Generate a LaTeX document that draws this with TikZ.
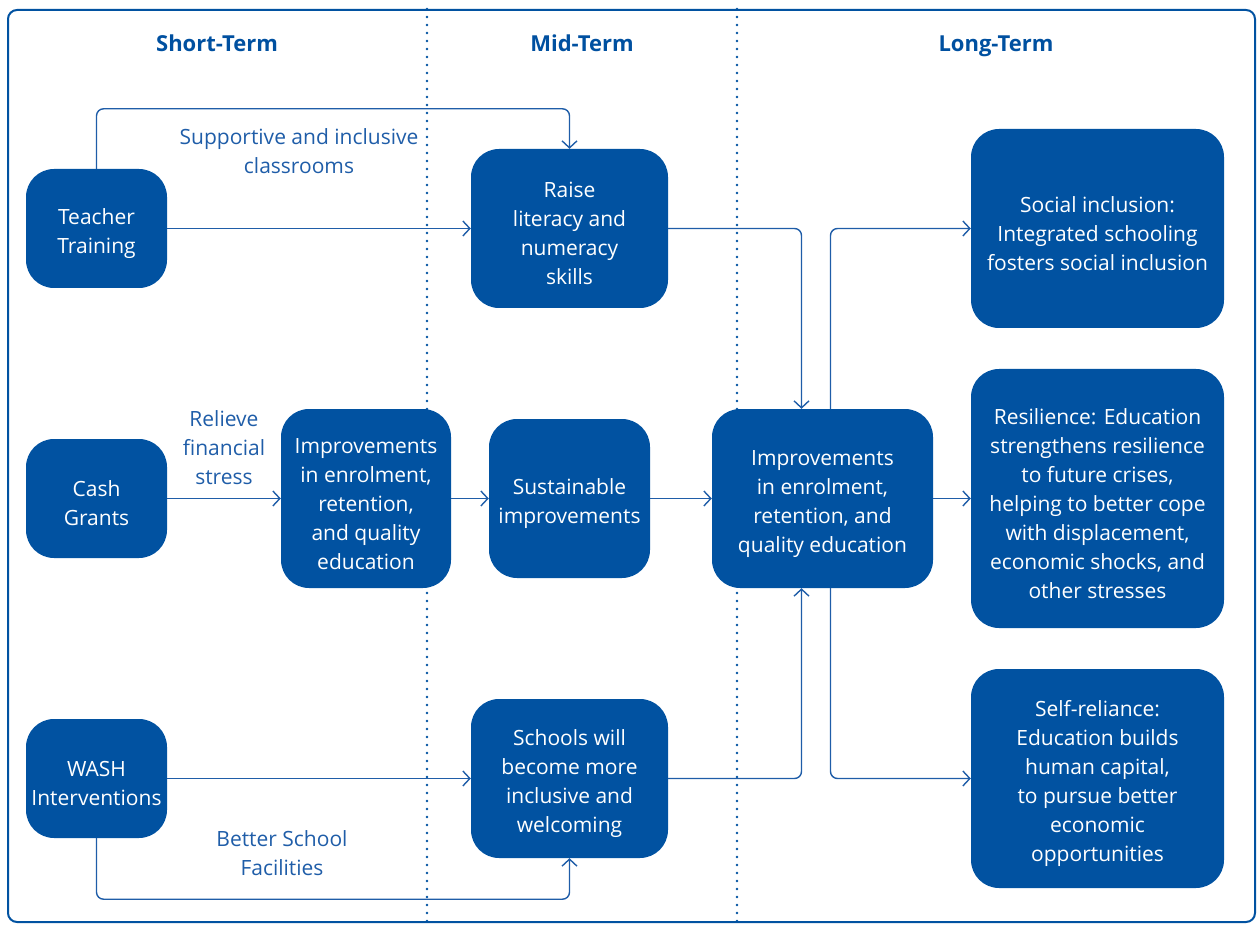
\documentclass[tikz,border=0pt]{standalone}
\usepackage{fontspec}
\setmainfont{Open Sans}
\usetikzlibrary{arrows.meta}
\definecolor{boxblue}{HTML}{0152A1}
\definecolor{lineblue}{HTML}{1F5DA8}
\definecolor{headblue}{HTML}{0050A0}
% taller first line: sets the box text a little below the centre
\newcommand\toprow{\rule{0pt}{26pt}}
\begin{document}
\begin{tikzpicture}[x=1pt,y=-1pt,
  stage/.style={fill=boxblue,draw=none,rounded corners=28pt,text=white,align=center,
    inner sep=0pt,font=\fontsize{21}{29}\selectfont},
  note/.style={text=lineblue,align=center,inner sep=0pt,font=\fontsize{21}{29}\selectfont},
  head/.style={text=headblue,inner sep=0pt,anchor=base,font=\fontsize{22}{26}\selectfont\bfseries},
  conn/.style={draw=lineblue,line width=1.4pt,rounded corners=7pt,
    -{Straight Barb[length=7pt,width=15pt,line width=1.4pt]}},
  divider/.style={draw=boxblue,line width=2.8pt,line cap=round,dash pattern=on 0pt off 8pt}]
\useasboundingbox (0,0) rectangle (1259,925);
% outer frame
\draw[boxblue,line width=2pt,rounded corners=9pt] (8,10) rectangle (1255,922);
% column dividers
\draw[divider] (427,9) -- (427,922);
\draw[divider] (737,9) -- (737,922);
% column headings
\node[head] (h1) at (217,52) {Short-Term};
\node[head] (h2) at (582,52) {Mid-Term};
\node[head] (h3) at (996,52) {Long-Term};
% short-term inputs
\node[stage,minimum width=141pt,minimum height=119pt] (tt) at (96.5,228.5) {\toprow Teacher\\Training};
\node[stage,minimum width=141pt,minimum height=119pt] (cg) at (96.5,498.5) {\toprow Cash\\Grants};
\node[stage,minimum width=141pt,minimum height=119pt] (wash) at (96.5,778.5) {\toprow WASH\\Interventions};
\node[stage,minimum width=170pt,minimum height=179pt] (imp1) at (366,498.5) {\toprow Improvements\\in enrolment,\\retention,\\and quality\\education};
% mid-term outcomes
\node[stage,minimum width=197pt,minimum height=159pt] (raise) at (569.5,228.5) {\toprow Raise\\literacy and\\numeracy\\skills};
\node[stage,minimum width=161pt,minimum height=159pt] (sust) at (569.5,498.5) {\toprow Sustainable\\improvements};
\node[stage,minimum width=197pt,minimum height=159pt] (school) at (569.5,778.5) {\toprow Schools will\\become more\\inclusive and\\welcoming};
\node[stage,minimum width=221pt,minimum height=179pt] (imp2) at (822.5,498.5) {\toprow Improvements\\in enrolment,\\retention, and\\quality education};
% long-term impacts
\node[stage,minimum width=253pt,minimum height=199pt] (soc) at (1097.5,228.5) {\toprow Social inclusion:\\Integrated schooling\\fosters social inclusion};
\node[stage,minimum width=253pt,minimum height=259pt] (res) at (1097.5,498.5) {\toprow Resilience: Education\\strengthens resilience\\to future crises,\\helping to better cope\\with displacement,\\economic shocks, and\\other stresses};
\node[stage,minimum width=253pt,minimum height=219pt] (self) at (1097.5,778.5) {\toprow Self-reliance:\\Education builds\\human capital,\\to pursue better\\economic\\opportunities};
% connector labels
\node[note] (l1) at (299,151) {Supportive and inclusive\\classrooms};
\node[note] (l2) at (224,448) {Relieve\\financial\\stress};
\node[note] (l3) at (282,853) {Better School\\Facilities};
% connectors
\draw[conn] (tt.east) -- (raise.west);
\draw[conn] (tt.north) -- ++(0,-60) -| (raise.north);
\draw[conn] (cg.east) -- (imp1.west);
\draw[conn] (imp1.east) -- (sust.west);
\draw[conn] (sust.east) -- (imp2.west);
\draw[conn] (imp2.east) -- (res.west);
\draw[conn] (wash.east) -- (school.west);
\draw[conn] (wash.south) -- ++(0,61) -| (school.south);
\draw[conn] (raise.east) -| ([xshift=-21pt]imp2.north);
\draw[conn] (school.east) -| ([xshift=-21pt]imp2.south);
\draw[conn] ([xshift=8pt]imp2.north) |- (soc.west);
\draw[conn] ([xshift=8pt]imp2.south) |- (self.west);
\end{tikzpicture}
\end{document}
